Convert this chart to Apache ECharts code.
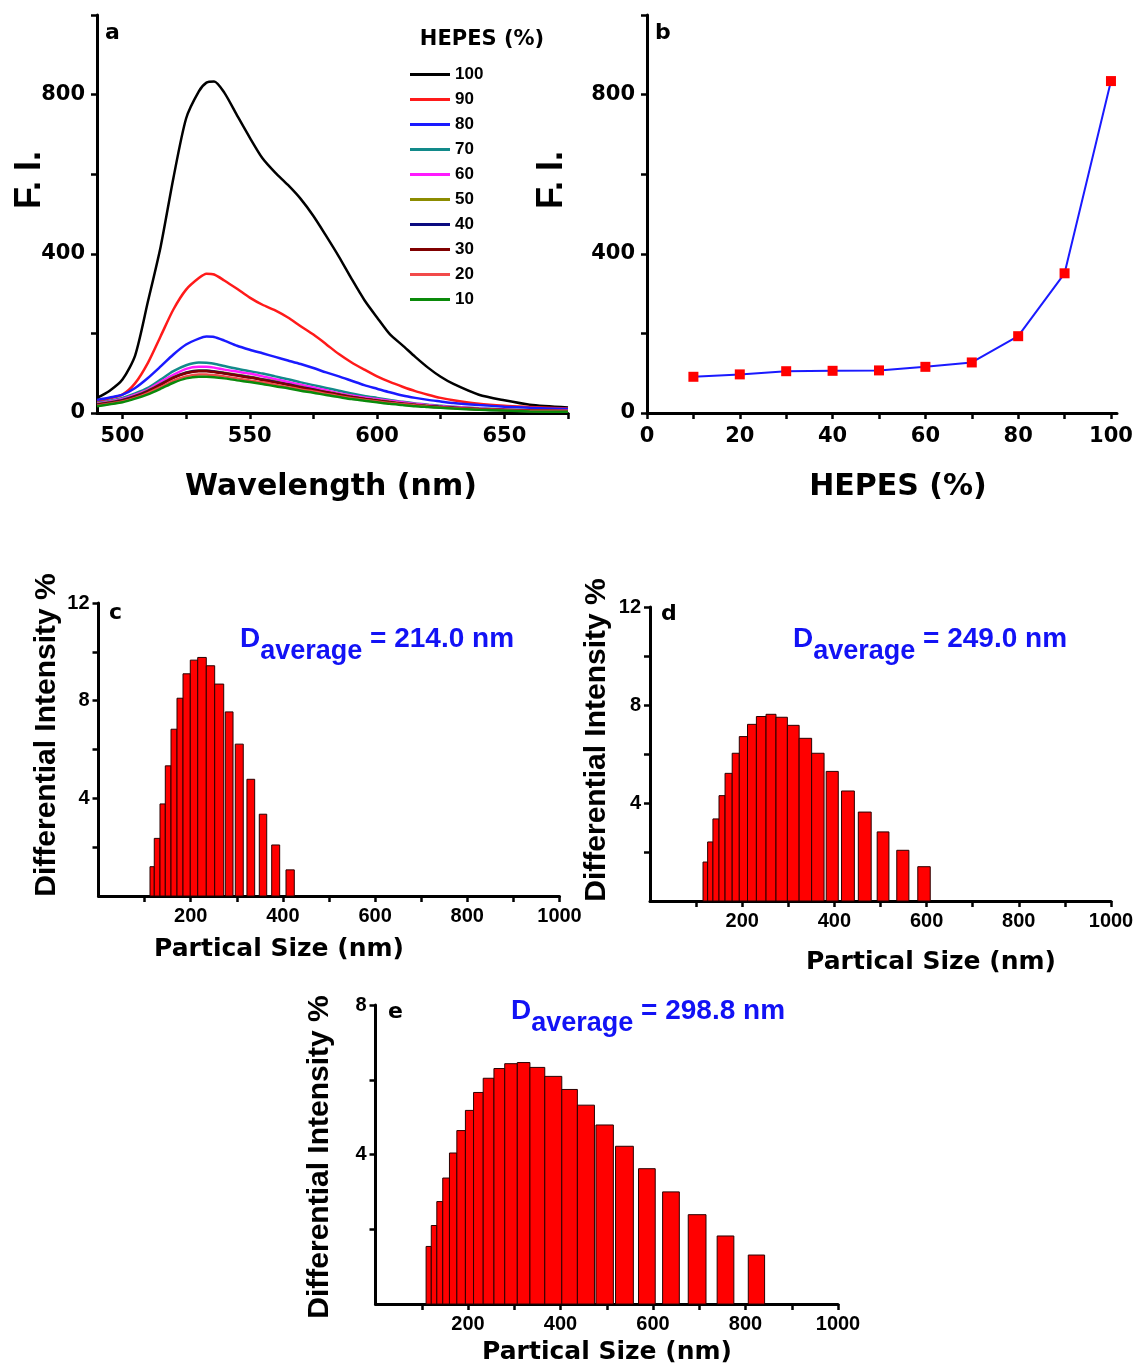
<!DOCTYPE html>
<html><head><meta charset="utf-8">
<script src="https://cdn.jsdelivr.net/npm/echarts@6/dist/echarts.min.js"></script>
<style>html,body{margin:0;padding:0;background:#fff}#c{width:1138px;height:1367px}</style>
</head><body><div id="c"></div><script>
// ---------- Panel a: emission spectra ----------
const wavelengths = [490,495,500,505,510,515,520,525,530,533,536,540,545,550,555,560,565,570,575,580,585,590,595,600,605,610,615,620,625,630,640,650,660,675];
const fi100 = [38,56,84,145,280,418,590,740,808,830,833,805,748,692,640,604,573,538,495,445,393,337,284,240,198,170,141,114,91,73,46,32,21,14];
const fi90  = [29,37,46,75,126,193,260,310,339,350,348,333,312,290,272,258,240,218,197,173,148,127,109,92,78,66,55,46,38,32,23,18,15,11];
const fi80  = [33,39,46,63,88,117,147,172,187,192,191,182,169,159,150,141,132,123,113,102,92,81,70,61,52,44,38,33,29,25,20,16,13,10];
const fi70  = [25,31,38,49,63,84,105,120,127,126,124,118,111,105,99,92,85,77,70,63,56,49,43,38,33,28,24,21,18,16,12,9,7,5];
const fi60  = [23,29,35,46,59,78,96,111,116,116,114,109,104,99,92,85,78,71,64,57,50,44,39,35,31,27,23,20,17,15,11,8,7,6];
const fi50  = [22,27,33,43,56,73,90,102,107,107,105,101,96,91,85,79,72,66,59,53,47,41,36,32,28,24,21,18,15,13,10,7,6,5];
const fi40  = [21,26,32,42,55,72,89,101,106,106,104,100,95,90,84,78,72,65,59,52,46,40,35,31,27,23,20,17,15,13,9,7,5,4];
const fi30  = [20,25,31,41,54,71,88,100,105,105,103,99,94,89,83,77,71,64,58,52,46,40,35,31,27,23,20,17,15,13,10,8,6,5];
const fi20  = [18,23,29,38,50,65,81,92,97,97,95,92,87,82,77,71,65,59,54,48,42,37,33,29,25,22,19,16,14,12,9,7,5,4];
const fi10  = [17,22,27,36,47,61,76,87,91,91,90,87,82,78,73,67,62,56,51,45,40,35,31,27,23,20,17,15,13,11,8,6,4,3];
const seriesNames = ['100','90','80','70','60','50','40','30','20','10'];
const seriesValues = [fi100,fi90,fi80,fi70,fi60,fi50,fi40,fi30,fi20,fi10];
const seriesColors = ['#000000','#ff1a1a','#1a1aff','#128a8a','#ff1aff','#8c8c00','#0a0a80','#800000','#f24a4a','#0a8a0a'];

// ---------- Panel b ----------
const hepesPercent = [10,20,30,40,50,60,70,80,90,100];
const peakFI = [91,97,105,106,107,116,127,193,351,834];

// ---------- Panel c ----------
const cBinStart = [111.7,121,133.4,144.9,157.3,170.3,183.3,199.1,215.2,233.8,252,275,296.7,322,348.8,375.7,406.7];
const cBinEnd   = [121,133.4,144.9,157.3,170.3,183.3,199.1,215.2,233.8,252,271.6,291.8,314,338.8,364.9,393,424.7];
const cIntensity= [1.20,2.36,3.77,5.33,6.83,8.10,9.10,9.66,9.77,9.43,8.68,7.54,6.22,4.78,3.35,2.09,1.07];

// ---------- Panel d ----------
const dBinStart = [115,125,136.5,149.7,162.8,178.3,193.7,211.5,230.8,251.7,273.3,298,323.5,350.6,382.2,415.5,451.9,492.8,535.3,580.9];
const dBinEnd   = [125,136.5,149.7,162.8,178.3,193.7,211.5,230.8,251.7,273.3,298,323.5,350.6,377.6,408.4,443.3,479.8,518.3,561.6,607.9];
const dIntensity= [1.59,2.41,3.35,4.30,5.21,6.03,6.71,7.21,7.53,7.62,7.50,7.17,6.64,6.03,5.29,4.49,3.63,2.82,2.07,1.40];

// ---------- Panel e ----------
const eBinStart = [109.4,120.6,132.6,145.4,159.9,175.9,194.4,212,232.9,256.1,279.4,306.6,333.9,366,402.8,436.5,476.6,519,568.7,620.8,676.2,738.7,806];
const eBinEnd   = [120.6,132.6,145.4,159.9,175.9,194.4,212,232.9,256.1,279.4,306.6,333.9,366,402.8,436.5,473.4,514.3,557.5,604.8,656.9,714.6,774.8,841.3];
const eIntensity= [1.54,2.10,2.74,3.37,4.04,4.64,5.18,5.66,6.04,6.30,6.43,6.46,6.33,6.09,5.74,5.32,4.79,4.22,3.62,3.00,2.39,1.82,1.31];

// tick / label values
const aXTicks = [500,525,550,575,600,625,650,675];
const aXLabels = [500,550,600,650];
const fiTicks = [0,200,400,600,800,1000];
const fiLabels = [0,400,800];
const bXTicks = [0,10,20,30,40,50,60,70,80,90,100];
const bXLabels = [0,20,40,60,80,100];
const sizeTicks = [100,200,300,400,500,600,700,800,900,1000];
const sizeLabels = [200,400,600,800,1000];
const cdYTicks = [2,4,6,8,10,12];
const cdYLabels = [4,8,12];
const eYTicks = [2,4,6,8];
const eYLabels = [4,8];

const chart = echarts.init(document.getElementById('c'), null, {renderer:'canvas'});
const FONT_AB = {fontFamily:'DejaVu Sans', fontWeight:'bold', fontSize:21, color:'#000'};
const FONT_CDE = {fontFamily:'Liberation Sans', fontWeight:'bold', fontSize:20, color:'#000'};

function makeAxis(gridIndex, min, max, tickVals, labelVals, font, margin) {
  return {
    type:'value', gridIndex:gridIndex, min:min, max:max,
    axisLine:{show:true, onZero:false, lineStyle:{color:'#000', width:3}},
    axisTick:{show:true, inside:false, length:6, lineStyle:{color:'#000', width:2.5}, customValues:tickVals},
    axisLabel:Object.assign({show:true, margin:margin, customValues:labelVals, hideOverlap:false,
      formatter:function(v){ return String(v); }}, font),
    splitLine:{show:false}
  };
}

function barRender(params, api) {
  const p0 = api.coord([api.value(0), api.value(2)]);
  const p1 = api.coord([api.value(1), 0]);
  return {type:'rect', shape:{x:p0[0], y:p0[1], width:p1[0]-p0[0], height:p1[1]-p0[1]},
          style:{fill:'#ff0000', stroke:'#2a0000', lineWidth:1}};
}

const series = [];
seriesNames.forEach(function(n, i){
  series.push({type:'line', name:n, xAxisIndex:0, yAxisIndex:0, showSymbol:false, symbol:'none',
    smooth:0.25, color:seriesColors[i],
    lineStyle:{color:seriesColors[i], width:2.5},
    data: wavelengths.map(function(w, k){ return [w, seriesValues[i][k]]; })});
});
series.push({type:'line', name:'peak', xAxisIndex:1, yAxisIndex:1, symbol:'rect', symbolSize:10,
  lineStyle:{color:'#1a1aff', width:2}, itemStyle:{color:'#ff0000'},
  data: hepesPercent.map(function(h, k){ return [h, peakFI[k]]; })});
[[cBinStart,cBinEnd,cIntensity],[dBinStart,dBinEnd,dIntensity],[eBinStart,eBinEnd,eIntensity]].forEach(function(arr, j){
  series.push({type:'custom', xAxisIndex:2+j, yAxisIndex:2+j, renderItem:barRender, encode:{x:[0,1], y:2},
    data: arr[0].map(function(s, k){ return [s, arr[1][k], arr[2][k]]; })});
});

function txt(x, y, text, font, opts) {
  return Object.assign({type:'text', x:x, y:y, silent:true,
    style:Object.assign({text:text, fill:'#000', align:'center', verticalAlign:'middle'}, font)}, opts||{});
}
const TITLE_H = {fontFamily:'DejaVu Sans', fontWeight:'bold', fontSize:30};
const TITLE_H2 = {fontFamily:'DejaVu Sans', fontWeight:'bold', fontSize:25};
const TITLE_V1 = {fontFamily:'Liberation Sans', fontWeight:'bold', fontSize:36};
const TITLE_V2 = {fontFamily:'Liberation Sans', fontWeight:'bold', fontSize:30};
const LETTER = {fontFamily:'DejaVu Sans', fontWeight:'bold', fontSize:22, align:'left'};
function dAvg(x, y, value) {
  return {type:'text', x:x, y:y, silent:true, style:{
    text:'{m|D}{s|average}{m| = ' + value + ' nm}', align:'left', verticalAlign:'middle',
    rich:{
      m:{fontFamily:'Liberation Sans', fontWeight:'bold', fontSize:28, fill:'#1212f5', lineHeight:28, verticalAlign:'top'},
      s:{fontFamily:'Liberation Sans', fontWeight:'bold', fontSize:27, fill:'#1212f5', lineHeight:40, verticalAlign:'bottom'}
    }}};
}

const option = {
  animation:false,
  backgroundColor:'#ffffff',
  grid:[
    {left:97, top:15, width:471, height:398, containLabel:false, outerBoundsMode:'none'},
    {left:647, top:15, width:470, height:398, containLabel:false, outerBoundsMode:'none'},
    {left:98.5, top:603, width:461, height:293, containLabel:false, outerBoundsMode:'none'},
    {left:650, top:607, width:461, height:294, containLabel:false, outerBoundsMode:'none'},
    {left:375.5, top:1005, width:462.5, height:299, containLabel:false, outerBoundsMode:'none'}
  ],
  xAxis:[
    makeAxis(0, 490, 675, aXTicks, aXLabels, FONT_AB, 13),
    makeAxis(1, 0, 101.3, bXTicks, bXLabels, FONT_AB, 13),
    makeAxis(2, 0, 1000, sizeTicks, sizeLabels, FONT_CDE, 10),
    makeAxis(3, 0, 1000, sizeTicks, sizeLabels, FONT_CDE, 10),
    makeAxis(4, 0, 1000, sizeTicks, sizeLabels, FONT_CDE, 10)
  ],
  yAxis:[
    makeAxis(0, 0, 1000, fiTicks, fiLabels, FONT_AB, 12),
    makeAxis(1, 0, 1000, fiTicks, fiLabels, FONT_AB, 12),
    makeAxis(2, 0, 12, cdYTicks, cdYLabels, FONT_CDE, 9),
    makeAxis(3, 0, 12, cdYTicks, cdYLabels, FONT_CDE, 9),
    makeAxis(4, 0, 8, eYTicks, eYLabels, FONT_CDE, 9)
  ],
  legend:{
    data:seriesNames, orient:'vertical', left:410, top:66, icon:'rect', itemWidth:40, itemHeight:3,
    itemGap:8, padding:0,
    textStyle:{fontFamily:'Liberation Sans', fontWeight:'bold', fontSize:17, color:'#000', lineHeight:17}
  },
  graphic:[
    txt(105, 33, 'a', LETTER),
    txt(655, 33, 'b', LETTER),
    txt(482, 40, 'HEPES (%)', {fontFamily:'DejaVu Sans', fontWeight:'bold', fontSize:21}),
    txt(331, 487, 'Wavelength (nm)', TITLE_H),
    txt(898, 487, 'HEPES (%)', TITLE_H),
    txt(30, 180, 'F. I.', TITLE_V1, {rotation:Math.PI/2}),
    txt(552, 180, 'F. I.', TITLE_V1, {rotation:Math.PI/2}),
    txt(109, 613, 'c', LETTER),
    txt(661, 614, 'd', LETTER),
    txt(388, 1012, 'e', LETTER),
    dAvg(240, 645, '214.0'),
    dAvg(793, 645, '249.0'),
    dAvg(511, 1017, '298.8'),
    txt(279, 949, 'Partical Size (nm)', TITLE_H2),
    txt(931, 962, 'Partical Size (nm)', TITLE_H2),
    txt(607, 1352, 'Partical Size (nm)', TITLE_H2),
    txt(47, 735, 'Differential Intensity %', TITLE_V2, {rotation:Math.PI/2}),
    txt(597, 740, 'Differential Intensity %', TITLE_V2, {rotation:Math.PI/2}),
    txt(320, 1157, 'Differential Intensity %', TITLE_V2, {rotation:Math.PI/2})
  ],
  series:series
};
chart.setOption(option);
</script></body></html>
